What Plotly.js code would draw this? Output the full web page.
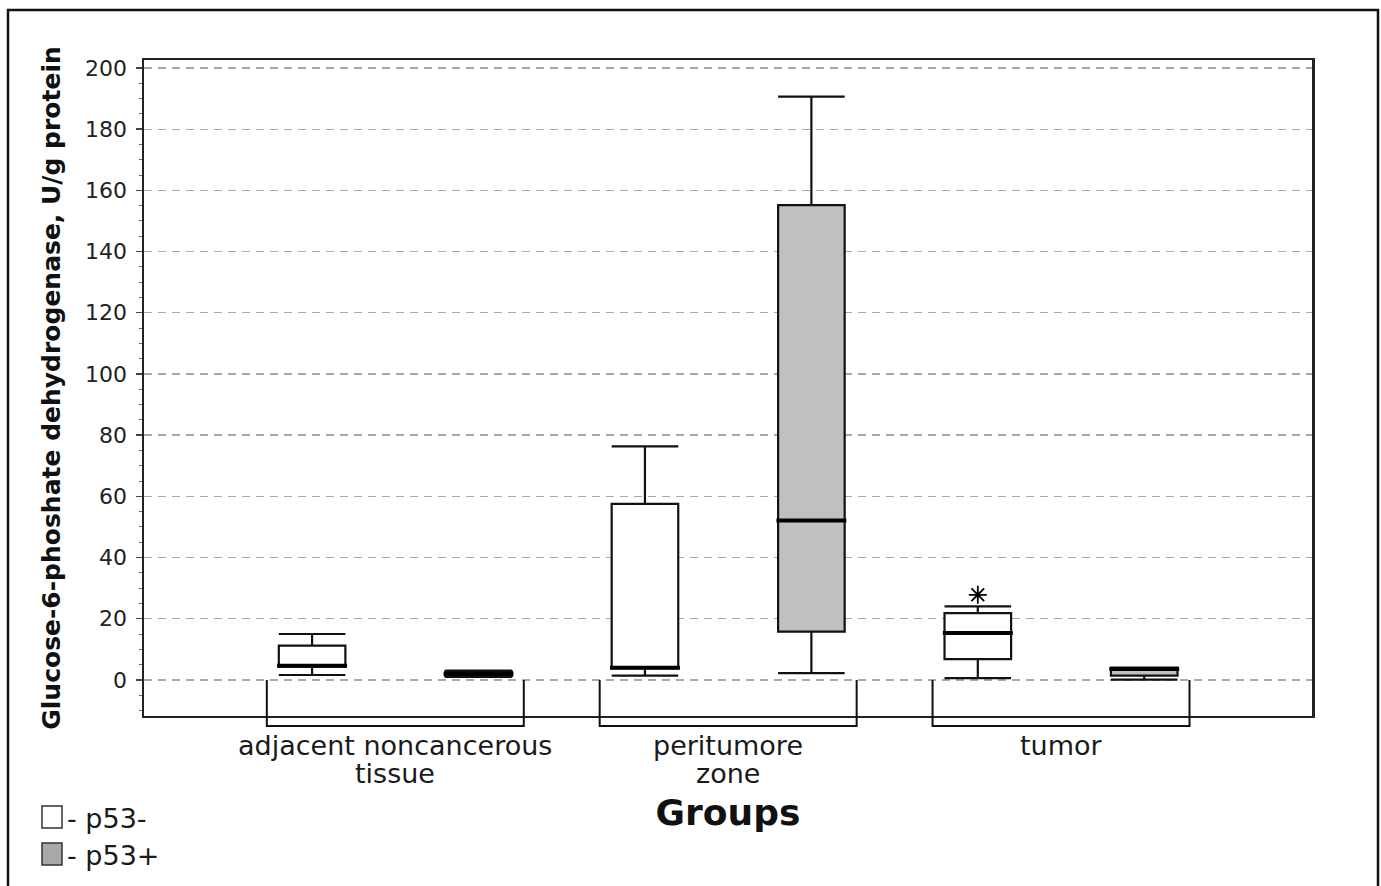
<!DOCTYPE html>
<html>
<head>
<meta charset="utf-8">
<script src="https://cdn.plot.ly/plotly-3.0.1.min.js"></script>
<style>
  html, body { margin: 0; padding: 0; background: #fff; }
  #chart { width: 1381px; height: 886px; }
</style>
</head>
<body>
<div id="chart"></div>
<script>
// ---- data ----
const groups = ['adjacent noncancerous<br>tissue', 'peritumore<br>zone', 'tumor'];
const seriesNames = ['p53-', 'p53+'];
// p53- (white boxes)
const negQ1 = [4.3, 3.8, 6.8];
const negMedian = [4.6, 4.0, 15.3];
const negQ3 = [11.2, 57.5, 21.8];
const negLower = [1.6, 1.4, 0.6];
const negUpper = [15.0, 76.3, 24.0];
// p53+ (grey boxes)
const posQ1 = [1.2, 15.8, 1.4];
const posMedian = [2.0, 52.1, 3.6];
const posQ3 = [2.8, 155.2, 4.0];
const posLower = [1.0, 2.2, 0.1];
const posUpper = [3.0, 190.6, 4.0];
// outliers (group index of the p53- series, value)
const outlierGroup = [2];
const outlierValue = [27.8];
const yTicks = [0, 20, 40, 60, 80, 100, 120, 140, 160, 180, 200];

// ---- layout helpers ----
const W = 1381, H = 886;
const M = { l: 144, r: 69, t: 60, b: 170 };
const PW = W - M.l - M.r, PH = H - M.t - M.b;
const pxX = p => (p - M.l) / PW;
const pxY = p => (H - M.b - p) / PH;

const groupPos = groups.map((g, i) => i + 1);
const offset = 0.25;       // series offset within a group
const boxW = 0.2;          // box width in x units
const bracketHalf = 0.386; // half-width of group bracket
const yRange = [-11.8, 202.6];
const xRange = [0.245, 3.754];

const negX = groupPos.map(p => p - offset);
const posX = groupPos.map(p => p + offset);

function boxTrace(name, x, q1, med, q3, lo, hi, fill) {
  return {
    type: 'box', name: name, x: x, q1: q1, median: med, q3: q3,
    lowerfence: lo, upperfence: hi, width: boxW, whiskerwidth: 1,
    boxpoints: false, fillcolor: fill,
    line: { color: '#111', width: 2.2 },
    showlegend: false, hoverinfo: 'y'
  };
}
function medianTrace(x, med) {
  const xs = [], ys = [];
  x.forEach((p, i) => {
    xs.push(p - boxW / 2 - 0.005, p + boxW / 2 + 0.005, null);
    ys.push(med[i], med[i], null);
  });
  return { type: 'scatter', mode: 'lines', x: xs, y: ys,
           line: { color: '#000', width: 4 }, showlegend: false, hoverinfo: 'skip' };
}

const traces = [
  boxTrace(seriesNames[0], negX, negQ1, negMedian, negQ3, negLower, negUpper, '#ffffff'),
  boxTrace(seriesNames[1], posX, posQ1, posMedian, posQ3, posLower, posUpper, '#c0c0c0'),
  medianTrace(negX, negMedian),
  medianTrace(posX, posMedian),
  { type: 'scatter', mode: 'markers', x: outlierGroup.map(i => negX[i]), y: outlierValue,
    marker: { symbol: 'asterisk-open', size: 15, color: '#000', line: { color: '#000', width: 1.8 } },
    showlegend: false, hoverinfo: 'y' }
];

const zeroPaper = (0 - yRange[0]) / (yRange[1] - yRange[0]);
const shapes = [];
// group brackets
groupPos.forEach(p => {
  shapes.push({
    type: 'path', xref: 'x', yref: 'paper',
    path: `M ${p - bracketHalf} ${zeroPaper} L ${p - bracketHalf} ${pxY(726)} L ${p + bracketHalf} ${pxY(726)} L ${p + bracketHalf} ${zeroPaper}`,
    line: { color: '#111', width: 2 }
  });
});
// outer frame
shapes.push({ type: 'rect', xref: 'paper', yref: 'paper', x0: pxX(8), x1: pxX(1378), y0: pxY(920), y1: pxY(10),
              line: { color: '#111', width: 2.5 }, fillcolor: 'rgba(0,0,0,0)', layer: 'below' });
// legend swatches
shapes.push({ type: 'rect', xref: 'paper', yref: 'paper', x0: pxX(42), x1: pxX(62), y0: pxY(828), y1: pxY(806),
              line: { color: '#333', width: 1.5 }, fillcolor: '#ffffff' });
shapes.push({ type: 'rect', xref: 'paper', yref: 'paper', x0: pxX(42), x1: pxX(62), y0: pxY(865), y1: pxY(843),
              line: { color: '#333', width: 1.5 }, fillcolor: '#a8a8a8' });

const catFont = { family: 'DejaVu Sans', size: 27, color: '#1a1a1a' };
const legFont = { family: 'DejaVu Sans', size: 27, color: '#1a1a1a' };
const annotations = [
  { xref: 'paper', yref: 'paper', x: pxX(65), y: pxY(818), xanchor: 'left', yanchor: 'middle',
    text: '- ' + seriesNames[0], showarrow: false, font: legFont },
  { xref: 'paper', yref: 'paper', x: pxX(65), y: pxY(855), xanchor: 'left', yanchor: 'middle',
    text: '- ' + seriesNames[1], showarrow: false, font: legFont }
];
// category labels, one annotation per line
groups.forEach((g, i) => {
  g.split('<br>').forEach((line, k) => {
    annotations.push({ xref: 'x', yref: 'paper', x: groupPos[i], y: pxY(745 + 28 * k),
      xanchor: 'center', yanchor: 'middle', text: line, showarrow: false, font: catFont });
  });
});

const layout = {
  width: W, height: H,
  margin: M,
  paper_bgcolor: '#fff', plot_bgcolor: '#fff',
  showlegend: false,
  xaxis: {
    range: xRange, tickmode: 'array', tickvals: groupPos, ticktext: groups,
    showticklabels: false,
    ticks: '', showgrid: false, zeroline: false,
    showline: true, mirror: true, linecolor: '#222', linewidth: 2,
    title: { text: '<b>Groups</b>', font: { family: 'DejaVu Sans', size: 36, color: '#111' }, standoff: 83 }
  },
  yaxis: {
    range: yRange, tickmode: 'array', tickvals: yTicks, ticktext: yTicks.map(String),
    ticks: 'outside', ticklen: 6, tickwidth: 1.5, tickcolor: '#444',
    minor: { dtick: 5, tick0: 0, ticks: 'outside', ticklen: 3, tickcolor: '#666', tickwidth: 1, showgrid: false },
    showgrid: true, gridcolor: '#a8a8a8', gridwidth: 1.3, griddash: '8px,6px',
    zeroline: false,
    showline: true, mirror: true, linecolor: '#222', linewidth: 2.5,
    tickfont: { family: 'DejaVu Sans', size: 22, color: '#222' },
    ticklabelstandoff: 4,
    title: { text: '<b>Glucose-6-phoshate dehydrogenase, U/g protein</b>',
             font: { family: 'DejaVu Sans', size: 25, color: '#111' }, standoff: 18 }
  },
  shapes: shapes,
  annotations: annotations
};

Plotly.newPlot('chart', traces, layout, { displayModeBar: false, staticPlot: true });
</script>
</body>
</html>
